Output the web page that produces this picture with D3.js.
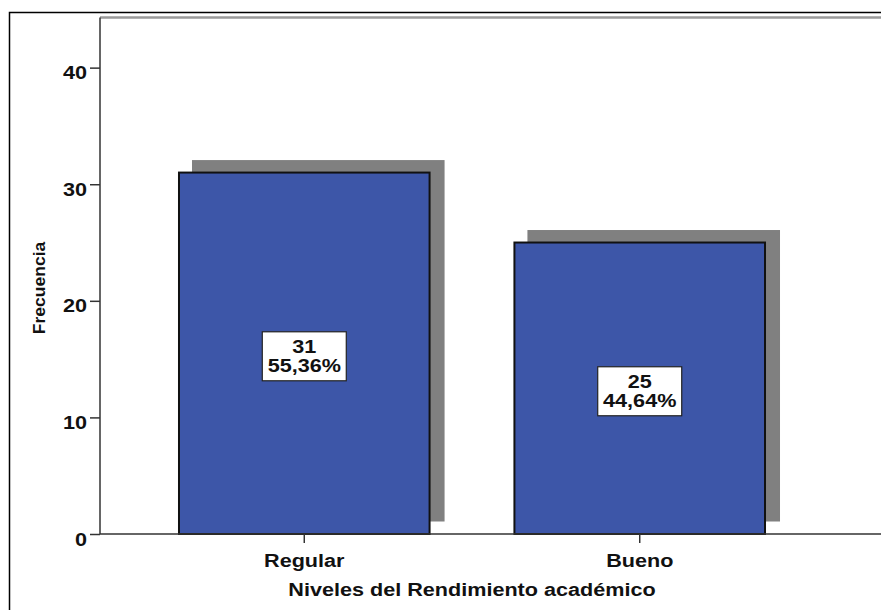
<!DOCTYPE html>
<html>
<head>
<meta charset="utf-8">
<script src="https://cdn.jsdelivr.net/npm/d3@7/dist/d3.min.js"></script>
<style>
  html, body { margin: 0; padding: 0; background: #fff; }
  svg { display: block; }
  text { font-family: Arial, "Liberation Sans", sans-serif; fill: #111; }
</style>
</head>
<body>
<svg id="chart" width="881" height="610"></svg>
<script>
// ---- data ----
const categories = ["Regular", "Bueno"];
const counts = [31, 25];
const percents = ["55,36%", "44,64%"];
const yTicks = [0, 10, 20, 30, 40];
const xTitle = "Niveles del Rendimiento académico";
const yTitle = "Frecuencia";

// ---- layout ----
const W = 881, H = 610;
const plotLeft = 100, plotRight = 844, plotTop = 17.5, plotBottom = 534;
const stretchFactor = 1.2;

const svg = d3.select("#chart");

function stretch(sel, f) {
  sel.each(function () {
    const w = this.getComputedTextLength();
    d3.select(this).attr("textLength", w * f).attr("lengthAdjust", "spacingAndGlyphs");
  });
}

const x = d3.scaleBand().domain(categories).range([plotLeft, plotRight])
  .paddingInner(0.247).paddingOuter(0.2325);
const y = d3.scaleLinear().domain([0, 44.3]).range([plotBottom, plotTop]);

// outer frame (only left/top visible)
svg.append("path")
  .attr("d", `M9.5,${H} V12.5 H${W}`)
  .attr("fill", "none").attr("stroke", "#000").attr("stroke-width", 1.5);

// plot top line (gray)
svg.append("line")
  .attr("x1", plotLeft).attr("x2", W).attr("y1", plotTop).attr("y2", plotTop)
  .attr("stroke", "#9a9a9a").attr("stroke-width", 2.5);

const data = categories.map((c, i) => ({ cat: c, n: counts[i], pct: percents[i] }));

// shadows
const shX = 14, shY = -12.5;
svg.append("g").selectAll("rect").data(data).join("rect")
  .attr("x", d => x(d.cat) + shX)
  .attr("y", d => y(d.n) + shY)
  .attr("width", x.bandwidth())
  .attr("height", d => y(0) - y(d.n))
  .attr("fill", "#808080");

// bars
svg.append("g").selectAll("rect").data(data).join("rect")
  .attr("x", d => x(d.cat) + 1)
  .attr("y", d => y(d.n))
  .attr("width", x.bandwidth() - 2)
  .attr("height", d => y(0) - y(d.n))
  .attr("fill", "#3d56a8")
  .attr("stroke", "#111")
  .attr("stroke-width", 2);

// y axis
const yAxis = svg.append("g").attr("transform", `translate(${plotLeft},0)`)
  .call(d3.axisLeft(y).tickValues(yTicks).tickSize(10).tickPadding(4).tickFormat(d3.format("d")));
yAxis.select(".domain").attr("d", `M0,${plotTop}V${plotBottom}`).attr("stroke", "#333").attr("stroke-width", 1.5);
yAxis.selectAll(".tick line").attr("stroke", "#333").attr("stroke-width", 1.5);
yAxis.selectAll(".tick text")
  .attr("dy", "0.62em").attr("x", -13)
  .style("font-family", "Arial, 'Liberation Sans', sans-serif")
  .style("font-size", "18px").style("font-weight", "bold").attr("fill", "#111")
  .call(stretch, stretchFactor);

// x axis
const xAxis = svg.append("g").attr("transform", `translate(0,${plotBottom})`)
  .call(d3.axisBottom(x).tickSize(9).tickPadding(7));
xAxis.select(".domain").attr("d", `M${plotLeft},0H${W}`).attr("stroke", "#333").attr("stroke-width", 1.5);
xAxis.selectAll(".tick line").attr("stroke", "#333").attr("stroke-width", 1.5);
xAxis.selectAll(".tick text")
  .attr("dy", "0.95em")
  .style("font-family", "Arial, 'Liberation Sans', sans-serif")
  .style("font-size", "18px").style("font-weight", "bold").attr("fill", "#111")
  .call(stretch, stretchFactor);

// axis titles
svg.append("text")
  .attr("x", (plotLeft + plotRight) / 2).attr("y", 596)
  .attr("text-anchor", "middle")
  .style("font-size", "18px").style("font-weight", "bold")
  .text(xTitle).call(stretch, stretchFactor);

svg.append("text")
  .attr("transform", "translate(45,288) rotate(-90)")
  .attr("text-anchor", "middle")
  .style("font-size", "17px").style("font-weight", "bold")
  .text(yTitle).call(stretch, 1.03);

// value label boxes
const boxW = 84, boxH = 49;
const lbl = svg.append("g").selectAll("g").data(data).join("g")
  .attr("transform", d => `translate(${x(d.cat) + x.bandwidth() / 2},${(y(d.n) + y(0)) / 2 + 3})`);
lbl.append("rect")
  .attr("x", -boxW / 2).attr("y", -boxH / 2).attr("width", boxW).attr("height", boxH)
  .attr("fill", "#fff").attr("stroke", "#222").attr("stroke-width", 1.2);
lbl.append("text").attr("text-anchor", "middle").attr("y", -3)
  .style("font-size", "18px").style("font-weight", "bold")
  .text(d => d.n).call(stretch, stretchFactor);
lbl.append("text").attr("text-anchor", "middle").attr("y", 15.5)
  .style("font-size", "18px").style("font-weight", "bold")
  .text(d => d.pct).call(stretch, stretchFactor);
</script>
</body>
</html>
